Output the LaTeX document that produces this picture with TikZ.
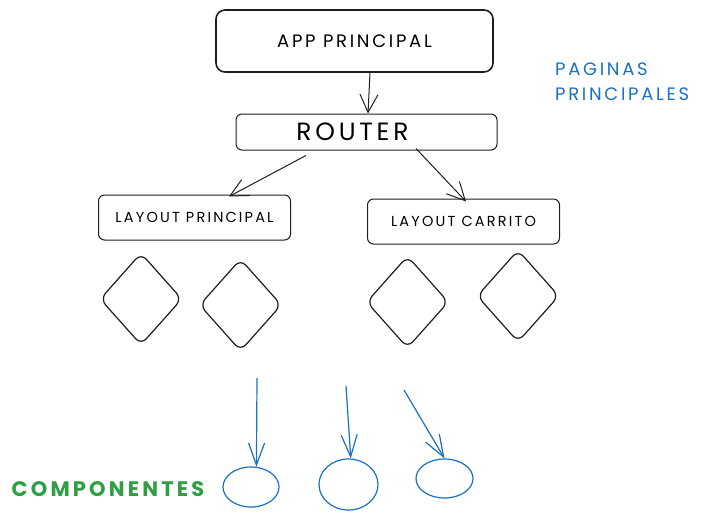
\documentclass[tikz,border=0pt]{standalone}
\usepackage{fontspec}
\setmainfont{Poppins}[LetterSpace=15]
\usetikzlibrary{shapes.geometric,arrows.meta,positioning}
\definecolor{sketchblack}{HTML}{1E1E1E}
\definecolor{noteblue}{HTML}{1971C2}
\definecolor{notegreen}{HTML}{2F9E44}
\tikzstyle{page} = [rectangle, draw=sketchblack, line width=1.6pt, rounded corners=9pt,
    minimum width=277pt, minimum height=62pt, font=\fontsize{18}{20}\selectfont]
\tikzstyle{router} = [rectangle, draw=sketchblack, line width=1pt, rounded corners=6pt,
    minimum width=261pt, minimum height=36pt, font=\fontsize{25}{28}\selectfont]
\tikzstyle{layout} = [rectangle, draw=sketchblack, line width=1pt, rounded corners=6pt,
    minimum width=192pt, minimum height=45pt, font=\fontsize{14.5}{16}\selectfont]
\tikzstyle{view} = [diamond, draw=sketchblack, line width=1.2pt, rounded corners=8pt,
    minimum width=82pt, minimum height=92pt, inner sep=0pt]
\tikzstyle{comp} = [ellipse, draw=noteblue, line width=1.2pt, inner sep=0pt]
\tikzstyle{line} = [draw=sketchblack, line width=1pt,
    arrows={-Straight Barb[length=18pt,width=18pt]}]
\tikzstyle{bline} = [draw=noteblue, line width=1.2pt,
    arrows={-Straight Barb[length=22pt,width=16pt]}]

\begin{document}
\begin{tikzpicture}[x=1pt, y=-1pt]
    \useasboundingbox (0,0) rectangle (712,520);
    % Place nodes
    % Pages
    \node [page] (App) at (354.5,41) {APP PRINCIPAL};
    \node [router] (Router) at (366.5,132) {\hspace*{-28pt}ROUTER};
    \node [layout] (LayPrin) at (194.5,217.5) {LAYOUT PRINCIPAL};
    \node [layout] (LayCarr) at (463.5,221.5) {LAYOUT CARRITO};

    % Views
    \node [view] (V1) at (141,299) {};
    \node [view] (V2) at (240.5,305) {};
    \node [view] (V3) at (407.5,302) {};
    \node [view] (V4) at (518,296) {};

    % Components
    \node [comp, minimum width=56pt, minimum height=40pt] (C1) at (251,487) {};
    \node [comp, minimum width=59pt, minimum height=51pt] (C2) at (348.5,484.5) {};
    \node [comp, minimum width=57pt, minimum height=39pt] (C3) at (444.5,478.5) {};
    \coordinate (S1) at (257,378);
    \coordinate (S2) at (346,386);
    \coordinate (S3) at (404,390);

    % Notes
    \node [text=noteblue, align=left, anchor=north west, inner sep=0pt,
        font=\fontsize{18}{25}\selectfont] (Pag) at (555,63) {PAGINAS\\PRINCIPALES};
    \node [text=notegreen, font=\fontsize{21}{24}\selectfont\bfseries] (Comp) at (108,489) {COMPONENTES};

    % Draw edges
    \path [line] ([xshift=15.5pt]App.south) -- ([xshift=1.5pt]Router.north);
    \path [line] ([xshift=-60.5pt,yshift=-5pt]Router.south) -- ([xshift=34.5pt,yshift=-2pt]LayPrin.north);
    \path [line] ([xshift=49.5pt,yshift=2pt]Router.south) -- ([xshift=2.5pt,yshift=-3pt]LayCarr.north);

    % Component arrows
    \path [bline] (S1) -- (C1.75);
    \path [bline] (S2) -- (C2.85);
    \path [bline] (S3) -- (C3.north);

\end{tikzpicture}
\end{document}
